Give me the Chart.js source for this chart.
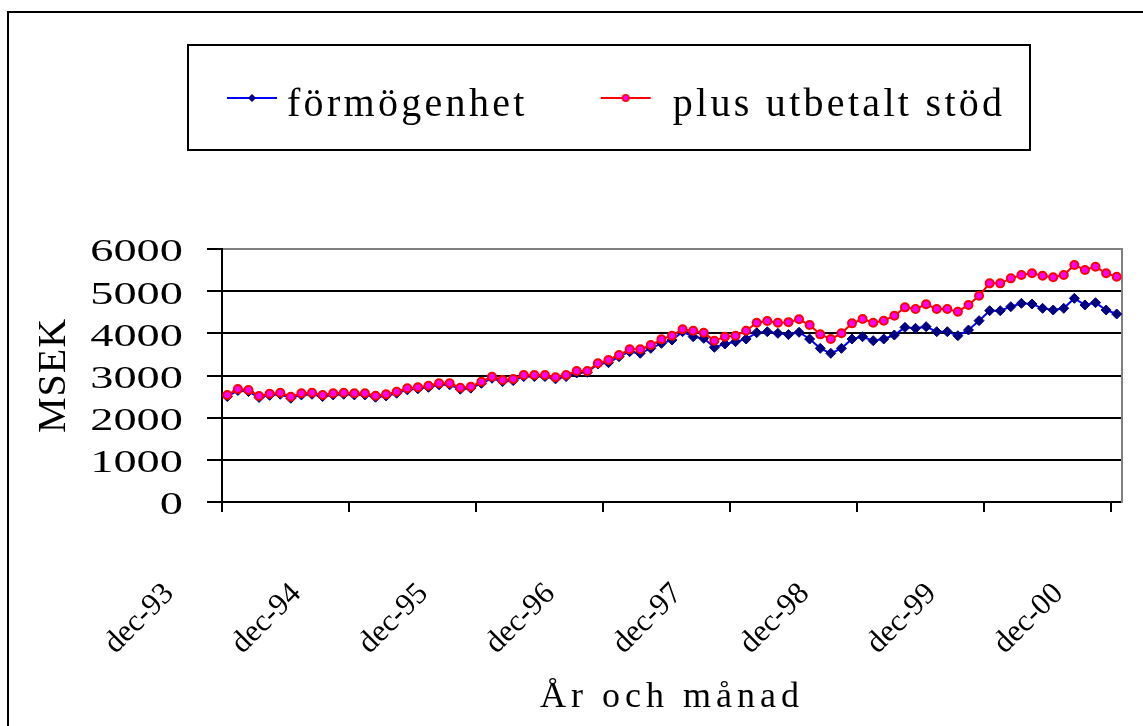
<!DOCTYPE html>
<html>
<head>
<meta charset="utf-8">
<script src="https://cdn.jsdelivr.net/npm/chart.js@4.4.0/dist/chart.umd.min.js"></script>
<style>
html,body{margin:0;padding:0;background:#fff;}
#wrap{width:1143px;height:726px;position:relative;}
canvas{display:block;}
</style>
</head>
<body>
<div id="wrap"><canvas id="c"></canvas></div>
<script>
const categories = [
  'dec-93',
  'jan-94','feb-94','mar-94','apr-94','maj-94','jun-94','jul-94','aug-94','sep-94','okt-94','nov-94','dec-94',
  'jan-95','feb-95','mar-95','apr-95','maj-95','jun-95','jul-95','aug-95','sep-95','okt-95','nov-95','dec-95',
  'jan-96','feb-96','mar-96','apr-96','maj-96','jun-96','jul-96','aug-96','sep-96','okt-96','nov-96','dec-96',
  'jan-97','feb-97','mar-97','apr-97','maj-97','jun-97','jul-97','aug-97','sep-97','okt-97','nov-97','dec-97',
  'jan-98','feb-98','mar-98','apr-98','maj-98','jun-98','jul-98','aug-98','sep-98','okt-98','nov-98','dec-98',
  'jan-99','feb-99','mar-99','apr-99','maj-99','jun-99','jul-99','aug-99','sep-99','okt-99','nov-99','dec-99',
  'jan-00','feb-00','mar-00','apr-00','maj-00','jun-00','jul-00','aug-00','sep-00','okt-00','nov-00','dec-00'
];

const formogenhet = [
  2500, 2645, 2620, 2480, 2530, 2555, 2460, 2540, 2555, 2500, 2540, 2555,
  2540, 2540, 2485, 2515, 2580, 2660, 2685, 2720, 2780, 2780, 2675, 2700,
  2815, 2935, 2855, 2880, 2975, 2975, 2975, 2920, 2975, 3060, 3075, 3272,
  3304, 3447, 3565, 3526, 3644, 3762, 3842, 4039, 3920, 3881, 3668, 3747,
  3802, 3865, 4015, 4039, 4000, 3970, 4025, 3865, 3644, 3526, 3644, 3865,
  3920, 3826, 3865, 3960, 4142, 4118, 4158, 4039, 4039, 3944, 4079, 4300,
  4537, 4537, 4632, 4711, 4695, 4593, 4553, 4593, 4830, 4672, 4727, 4553,
  4458
];

const plusUtbetaltStod = [
  2537, 2680, 2656, 2514, 2568, 2592, 2497, 2577, 2592, 2537, 2577, 2592,
  2577, 2577, 2521, 2553, 2616, 2696, 2720, 2758, 2815, 2815, 2711, 2735,
  2853, 2972, 2893, 2917, 3012, 3012, 3012, 2957, 3012, 3107, 3107, 3289,
  3367, 3486, 3621, 3621, 3723, 3858, 3944, 4095, 4063, 4015, 3826, 3920,
  3944, 4063, 4252, 4292, 4252, 4265, 4332, 4197, 3976, 3865, 4000, 4237,
  4340, 4252, 4300, 4418, 4616, 4577, 4688, 4577, 4577, 4513, 4672, 4892,
  5185, 5185, 5304, 5383, 5423, 5367, 5328, 5383, 5620, 5502, 5581, 5423,
  5344
];

const seriesNames = ['förmögenhet', 'plus utbetalt stöd'];
const yTickValues = [0, 1000, 2000, 3000, 4000, 5000, 6000];
const xAxisTitle = 'År och månad';
const yAxisTitle = 'MSEK';

const SERIF = "'Liberation Serif', 'Times New Roman', serif";

// legend glyphs (line + marker)
function legendGlyph(w, h, x0, x1, ly, lineColor, markerFn) {
  const cv = document.createElement('canvas');
  cv.width = w; cv.height = h;
  const g = cv.getContext('2d');
  g.strokeStyle = lineColor; g.lineWidth = 2;
  g.beginPath(); g.moveTo(x0, ly); g.lineTo(x1, ly); g.stroke();
  markerFn(g, (x0 + x1) / 2, ly);
  return cv;
}
const glyphBlue = legendGlyph(60, 30, 10, 60, 8, '#0000FF', (g, cx, cy) => {
  g.fillStyle = '#000080';
  g.beginPath(); g.moveTo(cx, cy - 4); g.lineTo(cx + 4, cy); g.lineTo(cx, cy + 4); g.lineTo(cx - 4, cy); g.closePath(); g.fill();
});
const glyphRed = legendGlyph(100, 30, 18, 68, 8, '#FF0000', (g, cx, cy) => {
  g.fillStyle = '#FF00FF'; g.strokeStyle = '#FF0000'; g.lineWidth = 1.5;
  g.beginPath(); g.arc(cx, cy, 3.2, 0, Math.PI * 2); g.fill(); g.stroke();
});

const isDec = (i) => typeof i === 'number' && categories[i] !== undefined && categories[i].indexOf('dec') === 0;

const LEGEND_H = 249;
const LEGEND_LEFT = 142;
const Y_STRETCH = 1.45;

const customPlugin = {
  id: 'custom',
  beforeLayout(chart) {
    const lg = chart.legend;
    if (lg && !lg.__patched) {
      const of = lg.fit;
      lg.fit = function () { of.call(this); this.height = LEGEND_H; };
      const od = lg.draw;
      lg.draw = function (area) {
        const c = this.ctx; c.save(); c.letterSpacing = '3.3px';
        od.call(this, area);
        c.restore(); c.letterSpacing = '0px';
      };
      lg.__patched = true;
    }
    chart.ctx.letterSpacing = '3.3px';
  },
  afterLayout(chart) {
    chart.ctx.letterSpacing = '0px';
    if (chart.legend) chart.legend.left = LEGEND_LEFT;
    const x = chart.scales.x, y = chart.scales.y;
    if (x && !x.__patched) {
      const ot = x.drawTitle;
      x.drawTitle = function () {
        const c = this.ctx; c.save(); c.letterSpacing = '5px';
        ot.call(this); c.restore(); c.letterSpacing = '0px';
      };
      x.__patched = true;
    }
    if (y && !y.__patched) {
      const ol = y.drawLabels;
      y.drawLabels = function (area) {
        const c = this.ctx;
        const ax = this.right - this.options.grid.tickLength - this.options.ticks.padding;
        c.save(); c.translate(ax, 4); c.scale(Y_STRETCH, 1); c.translate(-ax, 0);
        ol.call(this, area);
        c.restore();
      };
      const ot = y.drawTitle;
      y.drawTitle = function () {
        const c = this.ctx; c.save(); c.letterSpacing = '1px';
        ot.call(this); c.restore(); c.letterSpacing = '0px';
      };
      y.__patched = true;
    }
  },
  beforeDraw(chart) {
    const c = chart.ctx;
    c.save();
    c.strokeStyle = '#000'; c.lineWidth = 2;
    c.beginPath();
    c.moveTo(8, chart.height + 5); c.lineTo(8, 12); c.lineTo(chart.width + 5, 12);
    c.stroke();
    c.restore();
  },
  beforeDatasetsDraw(chart) {
    const a = chart.chartArea, c = chart.ctx;
    c.save();
    c.strokeStyle = '#808080'; c.lineWidth = 2;
    c.beginPath(); c.moveTo(a.right, a.top - 1); c.lineTo(a.right, a.bottom + 1); c.stroke();
    c.restore();
  },
  afterDraw(chart) {
    const c = chart.ctx;
    c.save();
    c.strokeStyle = '#000'; c.lineWidth = 2;
    c.strokeRect(188, 45, 842, 105);
    c.restore();
  }
};

Chart.defaults.color = '#000';
Chart.defaults.font.family = SERIF;

new Chart(document.getElementById('c'), {
  type: 'line',
  data: {
    labels: categories,
    datasets: [
      {
        label: seriesNames[0], data: formogenhet, order: 1,
        borderColor: '#0000FF', borderWidth: 2, tension: 0,
        pointStyle: 'rectRot', pointRadius: 5, pointBackgroundColor: '#000080',
        pointBorderColor: '#000080', pointBorderWidth: 1
      },
      {
        label: seriesNames[1], data: plusUtbetaltStod, order: 0,
        borderColor: '#FF0000', borderWidth: 2, tension: 0,
        pointStyle: 'circle', pointRadius: 4, pointBackgroundColor: '#FF00FF',
        pointBorderColor: '#FF0000', pointBorderWidth: 2
      }
    ]
  },
  options: {
    responsive: true,
    maintainAspectRatio: false,
    animation: false,
    events: [],
    layout: { padding: { left: 0, right: 21, top: 0, bottom: 0 } },
    plugins: {
      tooltip: { enabled: false },
      legend: {
        display: true, position: 'top', align: 'start',
        labels: {
          font: { family: SERIF, size: 40 }, color: '#000',
          padding: 85, usePointStyle: true, pointStyleWidth: 40, boxHeight: 40,
          sort: (a, b) => a.datasetIndex - b.datasetIndex,
          generateLabels(chart) {
            const items = Chart.defaults.plugins.legend.labels.generateLabels(chart);
            items.forEach(it => { it.pointStyle = it.datasetIndex === 0 ? glyphBlue : glyphRed; });
            return items;
          }
        }
      }
    },
    scales: {
      x: {
        type: 'category', offset: true,
        grid: {
          offset: true, drawOnChartArea: false, tickLength: 10, lineWidth: 2,
          color: (ctx) => isDec(ctx.index) ? '#000' : 'rgba(0,0,0,0)'
        },
        border: { color: '#000', width: 2 },
        ticks: {
          autoSkip: false, minRotation: 45, maxRotation: 45,
          padding: 64, labelOffset: -58,
          font: { family: SERIF, size: 31 }, color: '#000',
          callback: function (value) { return isDec(value) ? categories[value] : ''; }
        },
        title: {
          display: true, text: xAxisTitle, color: '#000',
          font: { family: SERIF, size: 36 }, padding: { top: 0, bottom: 7 }
        },
        afterFit(s) { s.height = 224; s.paddingLeft = 0; s.paddingRight = 0; }
      },
      y: {
        min: yTickValues[0], max: yTickValues[yTickValues.length - 1],
        afterBuildTicks(s) { s.ticks = yTickValues.map(v => ({ value: v })); },
        grid: {
          lineWidth: 2, tickLength: 15, tickColor: '#000',
          color: (ctx) => (ctx.tick && ctx.tick.value === 6000) ? '#808080' : '#000'
        },
        border: { color: '#000', width: 2 },
        ticks: {
          padding: 24, font: { family: SERIF, size: 32 }, color: '#000',
          callback: (v) => String(v)
        },
        title: {
          display: true, text: yAxisTitle, color: '#000',
          font: { family: SERIF, size: 40 }, padding: { top: 30, bottom: 0 }
        },
        afterFit(s) { s.width = 222; s.paddingTop = 0; s.paddingBottom = 0; }
      }
    }
  },
  plugins: [customPlugin]
});
</script>
</body>
</html>
